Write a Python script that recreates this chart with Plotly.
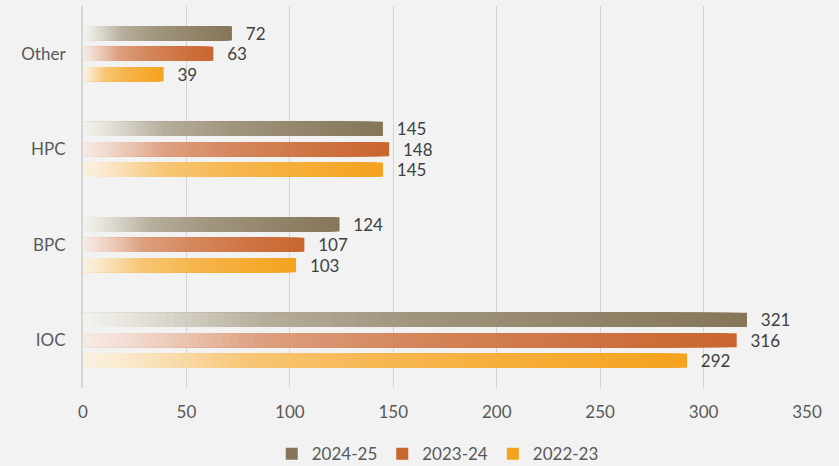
import plotly.graph_objects as go

categories = ["IOC", "BPC", "HPC", "Other"]
series_names = ["2022-23", "2023-24", "2024-25"]
values_2022_23 = [292, 103, 145, 39]
values_2023_24 = [316, 107, 148, 63]
values_2024_25 = [321, 124, 145, 72]
x_ticks = [0, 50, 100, 150, 200, 250, 300, 350]

series_values = [values_2022_23, values_2023_24, values_2024_25]
full_colors = [(245, 163, 31), (201, 101, 47), (133, 118, 89)]
light_colors = [(250, 241, 224), (246, 233, 227), (242, 241, 236)]
legend_ranks = [3, 2, 1]

N = 80
# gradient profile (fraction along bar -> mix toward full colour)
prof_t = [0.0, 0.05, 0.15, 0.27, 0.5, 0.78, 1.0]
prof_f = [0.0, 0.06, 0.27, 0.55, 0.75, 0.9, 1.0]


def profile(t):
    for i in range(len(prof_t) - 1):
        if prof_t[i] <= t <= prof_t[i + 1]:
            u = (t - prof_t[i]) / (prof_t[i + 1] - prof_t[i])
            return prof_f[i] + u * (prof_f[i + 1] - prof_f[i])
    return 1.0


def mix(light, full, f):
    c = [int(round(lc + (fc - lc) * f)) for lc, fc in zip(light, full)]
    return f"rgb({c[0]},{c[1]},{c[2]})"


fig = go.Figure()
FONT = "Lato, 'Open Sans', sans-serif"

for s, name in enumerate(series_names):
    vals = series_values[s]
    for k in range(N):
        frac = (N - k) / N
        t = (N - k - 0.5) / N if k > 0 else 1.0
        col = mix(light_colors[s], full_colors[s], profile(t))
        first = k == 0
        fig.add_trace(go.Bar(
            y=categories,
            x=[v * frac for v in vals],
            orientation="h",
            offsetgroup=name,
            name=name,
            legendgroup=name,
            showlegend=first,
            legendrank=legend_ranks[s],
            marker=dict(color=col, line=dict(width=0)),
            text=[f"  \u2009{v}" for v in vals] if first else None,
            textposition="outside" if first else "none",
            textfont=dict(family=FONT, size=17, color="#404040"),
            constraintext="none",
            cliponaxis=False,
            hoverinfo="skip",
        ))

fig.update_layout(
    width=839, height=466,
    barmode="group",
    bargap=0.36,
    bargroupgap=0.31,
    paper_bgcolor="#f2f2f2",
    plot_bgcolor="#f2f2f2",
    margin=dict(l=83, r=32, t=6, b=78, autoexpand=False),
    font=dict(family=FONT, size=17, color="#595959"),
    showlegend=True,
    legend=dict(orientation="h", x=0.490, xanchor="center", y=-0.173, yanchor="middle",
                font=dict(family=FONT, size=17, color="#595959"),
                traceorder="normal", bgcolor="rgba(0,0,0,0)",
                itemwidth=30),
    xaxis=dict(range=[0, 350], tickvals=x_ticks, ticktext=[str(v) for v in x_ticks],
               showgrid=True, gridcolor="#d3d3d3", gridwidth=1,
               zeroline=False, showline=False, ticks="", automargin=False,
               ticklabelstandoff=12, fixedrange=True),
    yaxis=dict(categoryorder="array", categoryarray=categories,
               showline=True, linecolor="#d6d6d6", linewidth=2, automargin=False,
               showgrid=False, ticks="", ticklabelstandoff=12, fixedrange=True),
)

fig.write_html(
    "out.html",
    config={"displayModeBar": False, "staticPlot": True},
    post_script="document.body.style.margin='0';document.body.style.background='#f2f2f2';",
)
